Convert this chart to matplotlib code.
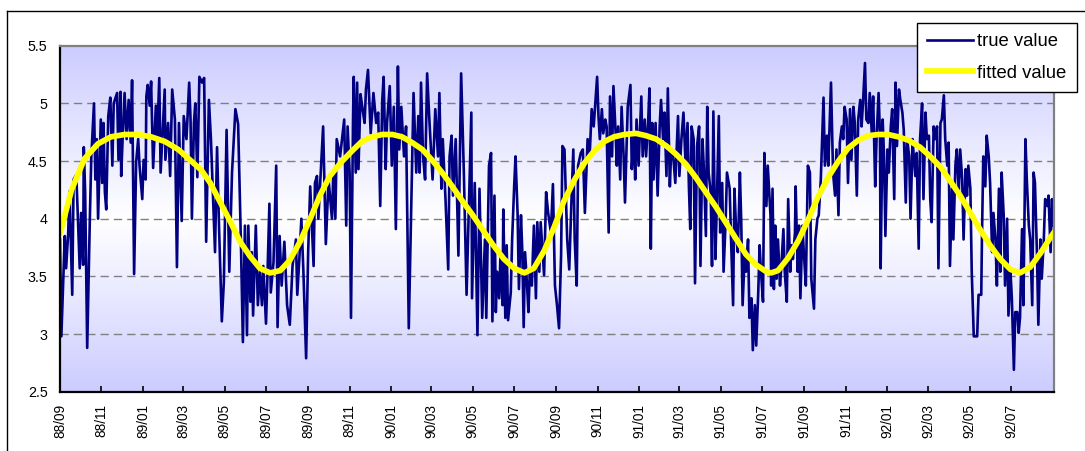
import numpy as np
import pandas as pd
import matplotlib
matplotlib.use('Agg')
import matplotlib.pyplot as plt
from matplotlib.lines import Line2D
from matplotlib.colors import LinearSegmentedColormap

plt.rcParams['font.family'] = ['Liberation Sans', 'DejaVu Sans']

# ---------------- data (days counted from 1988-09-01) ----------------
start_date = '1988-09-01'
end_date = '1992-09-01'

true_days = [
    0, 2, 7, 9, 12, 14, 18, 20, 24, 29, 31, 34, 35, 37, 40, 44, 46, 50, 52, 54, 56, 60, 62, 64, 66, 68,
    71, 74, 77, 79, 84, 86, 89, 90, 93, 95, 98, 101, 104, 106, 109, 112, 115, 117, 121, 123, 126, 127,
    129, 132, 134, 137, 141, 143, 146, 148, 152, 154, 155, 159, 162, 165, 169, 172, 175, 179, 182, 186,
    190, 192, 194, 197, 199, 202, 205, 209,
    212, 213, 215, 219, 222, 228, 231, 234, 238, 241, 245, 249, 253, 258, 262, 266, 269, 272, 275, 277,
    280, 282, 284, 288, 291, 294, 297, 299, 303, 305, 308, 310, 314, 318, 320, 323, 326, 330, 334, 338,
    342, 347, 349, 352, 355, 358, 362, 365, 368, 373, 375, 378, 380, 384, 387, 391, 395, 400, 402, 405,
    407, 412, 418,
    421, 423, 426, 428, 431, 432, 435, 437, 439, 442, 445, 448, 450, 453, 457, 461, 465, 468, 471, 474,
    476, 479, 481, 485, 488, 491, 494, 497, 499, 502, 506, 509, 513, 516, 520, 524, 527, 529, 531, 534,
    537, 540, 543, 548, 552, 556, 558, 561, 563, 567, 571, 573, 576, 578, 582, 586, 590, 594, 598, 605,
    606, 610, 614, 617, 621, 625, 627,
    631, 634, 636, 639, 641, 643, 646, 648, 651, 652, 655, 657, 659, 663, 665, 668, 670, 673, 675, 678,
    680, 682, 684, 687, 689, 691, 694, 697, 700, 702, 705, 707, 712, 715, 718, 722, 725, 728, 731, 734,
    737, 739, 742, 746, 749, 752, 755, 757, 760, 762, 766, 769, 772, 776, 779, 782, 785, 787, 790, 792,
    794, 797, 799, 802, 804, 807, 809, 812, 814, 817, 819, 821, 824, 826, 829, 831, 835,
    839, 841, 844, 846, 848, 851, 855, 857, 860, 862, 865, 867, 869, 871, 873, 876, 879, 882, 884, 887,
    889, 892, 894, 897, 899, 902, 905, 909, 911, 914, 917, 920, 923, 925, 927, 929, 932, 934, 937, 940,
    942, 945, 947, 950, 952, 954, 957, 959, 961, 964, 966, 969, 971, 974, 976, 979, 981, 985, 987, 990,
    992, 995, 997, 1000, 1002, 1004, 1007, 1009, 1012, 1014, 1017, 1019, 1022, 1024, 1027, 1029, 1031,
    1034, 1036, 1039, 1041, 1045,
    1046, 1048, 1050, 1052, 1054, 1056, 1059, 1061, 1064, 1066, 1069, 1071, 1074, 1076, 1078, 1081,
    1082, 1085, 1087, 1089, 1092, 1094, 1097, 1100, 1103, 1105, 1109, 1111, 1114, 1116, 1119, 1123,
    1125, 1128, 1130, 1134, 1137, 1140, 1142, 1145, 1147, 1150, 1152, 1154, 1157, 1159, 1162, 1164,
    1167, 1169, 1172, 1174, 1177, 1179, 1181, 1184, 1186, 1189, 1191, 1194, 1196, 1199, 1201, 1204,
    1206, 1207, 1210, 1212, 1214, 1217, 1219, 1222, 1224, 1227, 1229, 1231, 1234, 1236, 1239, 1241,
    1244, 1246, 1249, 1251, 1254,
    1255, 1258, 1260, 1263, 1265, 1268, 1270, 1273, 1275, 1278, 1280, 1282, 1285, 1287, 1290, 1292,
    1295, 1297, 1300, 1302, 1305, 1307, 1309, 1312, 1314, 1317, 1319, 1322, 1324, 1327, 1329, 1332,
    1334, 1336, 1339, 1341, 1344, 1349, 1351, 1355, 1356, 1358, 1361, 1363, 1366, 1368, 1371, 1373,
    1376, 1378, 1381, 1383, 1385, 1388, 1390, 1393, 1395, 1398, 1400, 1403, 1405, 1408, 1410, 1412,
    1415, 1417, 1420, 1422, 1425, 1427, 1430, 1432, 1434, 1437, 1439, 1442, 1444, 1447, 1449, 1452,
    1454, 1457, 1459, 1461,
]
true_vals = [
    3.82, 2.98, 3.85, 3.57, 3.87, 4.24, 3.34, 4.34, 4.38, 3.57, 4.05, 3.60, 4.62, 4.23, 2.88, 4.03, 4.53,
    5.00, 4.34, 4.69, 4.00, 4.86, 4.31, 4.83, 4.23, 4.08,
    4.89, 5.05, 4.46, 5.00, 5.09, 4.51, 5.10, 4.37, 4.83, 5.09, 4.69, 5.03, 4.66, 5.20, 3.52, 4.49, 4.69,
    4.46, 4.17, 4.51, 4.34, 5.06,
    5.16, 4.98, 5.19, 4.44, 4.98, 4.69, 5.22, 4.40, 4.89, 5.12, 4.51, 4.83, 4.37, 5.12, 4.86, 3.58, 4.83,
    3.98, 4.89, 4.69,
    5.18, 4.86, 4.00, 4.83, 5.00, 4.36, 5.23, 5.18,
    5.22, 4.72, 3.80, 5.03, 4.69, 3.71, 4.62, 3.91, 3.11, 3.45, 4.77, 3.54, 4.40, 4.95, 4.82, 3.82, 2.93,
    3.94, 2.99, 3.94,
    3.28, 3.71, 3.16, 3.94, 3.25, 3.54, 3.25, 3.59, 3.09, 3.48, 4.13, 3.36, 3.62, 4.46, 3.06, 3.85, 3.42,
    3.80, 3.25, 3.08,
    3.59, 3.82, 3.34, 3.65, 4.00, 3.54, 2.79, 3.71, 4.28, 3.59, 4.31, 4.37, 4.00, 4.46, 4.80, 3.78, 4.34,
    4.00, 4.40, 4.00,
    4.69, 4.54, 4.86,
    3.94, 4.80, 4.40, 3.14, 4.86, 5.23, 4.40, 5.18, 4.43, 5.08, 4.95, 4.83, 5.12, 5.29, 4.74, 5.09, 4.83,
    4.92, 4.11, 5.03,
    5.23, 4.43, 4.83, 5.15, 4.46, 4.97, 3.91, 5.32, 4.60, 4.97, 4.54, 4.80, 3.05, 3.94, 5.09, 4.40, 4.89,
    4.40, 5.18, 4.54,
    4.34, 5.26, 4.89, 4.34, 4.95, 4.54, 5.09, 4.26, 4.69, 4.17, 3.56, 4.54, 4.72, 4.20, 4.69, 3.68, 5.26,
    4.40, 3.34, 4.92,
    3.31, 4.31, 2.99, 4.26, 3.14, 3.82, 3.14,
    4.46, 4.57, 3.11, 4.20, 3.19, 3.54, 3.31, 3.71, 3.25, 4.08, 3.14, 3.77, 3.12, 3.36, 3.82, 4.28, 4.54,
    4.05, 3.39, 4.03,
    3.71, 3.06, 3.71, 3.42, 3.19, 3.54, 3.42, 3.94, 3.31, 3.97, 3.54, 3.97, 3.51, 4.23, 4.05, 3.88, 4.30,
    3.42, 3.25, 3.05,
    3.68, 4.63, 4.60, 3.82, 3.56, 4.11, 4.60, 3.82, 3.42, 4.46, 4.57, 4.60, 4.05, 4.69, 4.54, 4.95, 4.80,
    4.97, 5.23, 4.89,
    4.69, 4.95, 4.74, 4.86, 4.80, 3.88, 5.06, 4.54, 5.15, 4.77, 4.46, 4.80, 4.34, 4.97, 4.54, 4.14, 4.97,
    5.16, 4.43, 4.74, 4.34, 4.86, 4.46, 5.06, 4.54, 4.86, 4.54, 4.83, 5.13, 3.74, 4.83, 4.34, 4.83, 4.20,
    4.80, 5.03, 4.69,
    4.92, 4.37, 5.13, 4.28, 4.60, 4.54, 4.31, 4.89, 4.37, 4.69, 4.92, 4.49, 4.83, 4.28, 3.91, 4.80, 4.69,
    3.44, 4.63, 4.80,
    3.59, 4.69, 4.43, 3.85, 4.97, 4.40, 4.23, 3.59, 4.93, 3.65, 4.11, 4.89, 3.88, 4.31, 3.54, 3.97, 4.40,
    4.26, 3.82, 3.25,
    4.26, 3.82, 3.71, 4.40, 3.97, 3.25, 3.68, 3.54, 3.82, 3.14, 3.31, 2.86, 3.25, 2.90, 3.36, 3.77, 3.54,
    3.28, 4.57, 4.11, 4.46, 4.03,
    3.42, 4.26, 3.39, 3.94, 3.48, 3.82, 3.42, 3.59, 3.91, 3.54, 3.28, 4.17, 3.54, 3.77, 3.65, 3.88,
    4.28, 3.54, 3.94, 3.31, 3.94, 3.71, 3.42, 4.46, 4.40, 3.48, 3.22, 3.82, 4.00, 4.03, 4.34, 5.05,
    4.46, 4.72, 4.46, 5.18, 4.40, 4.20, 4.60, 4.03, 4.66, 4.80, 4.69, 4.97, 4.86, 4.31, 4.95, 4.51,
    4.97, 4.83, 4.20, 4.86, 5.03, 4.80, 5.00, 5.35, 4.86, 4.83, 5.09, 4.74, 5.06, 4.28, 4.69, 5.09,
    4.74, 3.57, 4.86, 4.54, 3.85, 4.60, 4.40, 4.80, 4.95, 4.17, 5.18, 4.63, 5.12, 5.03, 4.92, 4.77,
    4.14, 4.69, 4.54, 4.00, 4.69,
    4.60, 4.37, 4.57, 3.74, 4.69, 5.00, 4.17, 4.92, 4.69, 4.72, 4.17, 3.97, 4.80, 4.69, 4.80, 3.57,
    4.83, 4.86, 5.07, 4.69, 4.46, 4.66, 3.59, 4.26, 3.82, 4.46, 4.60, 4.23, 4.60, 4.34, 3.82, 4.43,
    4.20, 4.46, 4.26, 3.54, 2.98, 2.98, 3.34, 3.34, 3.82, 4.54, 4.28, 4.72, 4.54, 4.31, 3.71, 4.05,
    3.80, 3.42, 4.26, 3.54, 4.40, 4.03, 3.42, 4.00, 3.16, 3.54, 3.31, 2.69, 3.19, 3.19, 3.01, 3.14,
    3.91, 3.25, 4.69, 4.34, 3.94, 3.82, 3.25, 4.40, 4.31, 3.68, 3.08, 3.82, 3.48, 3.82, 4.17, 4.11,
    4.20, 3.71, 4.17, 3.94,
]

fit_days = [
    0, 17, 36, 56, 75, 95, 115, 134, 154, 174, 193, 208, 221, 235, 250, 265, 280, 294, 309, 324, 338,
    353, 368, 383, 397, 412, 430, 444, 459, 474, 489, 503, 518, 533, 547, 562, 577, 591, 606, 621, 636,
    653, 668, 683, 697, 712, 727, 741, 756, 771, 786, 801, 815, 830, 847, 862, 877, 892, 906, 921, 936,
    951, 965, 980, 995, 1009, 1024, 1039, 1046, 1056, 1071, 1086, 1101, 1115, 1130, 1145, 1159, 1174,
    1189, 1204, 1218, 1233, 1248, 1265, 1280, 1295, 1309, 1324, 1339, 1354, 1368, 1383, 1398, 1412,
    1427, 1442, 1457, 1463,
]
fit_vals = [
    3.87, 4.25, 4.52, 4.65, 4.71, 4.73, 4.73, 4.71, 4.67, 4.60, 4.50, 4.42, 4.31, 4.15, 3.98, 3.80, 3.67,
    3.57, 3.53, 3.55, 3.64, 3.80, 4.00, 4.21, 4.37, 4.48, 4.59, 4.67, 4.71, 4.73, 4.73, 4.71, 4.66, 4.60,
    4.51, 4.40, 4.28, 4.16, 4.04, 3.91, 3.78, 3.65, 3.57, 3.53, 3.57, 3.72, 3.93, 4.15, 4.33, 4.48, 4.59,
    4.67, 4.71, 4.73, 4.74, 4.72, 4.69, 4.63, 4.56, 4.47, 4.35, 4.22, 4.10, 3.96, 3.82, 3.69, 3.60, 3.54,
    3.53, 3.55, 3.66, 3.81, 4.00, 4.19, 4.36, 4.50, 4.61, 4.68, 4.72, 4.73, 4.73, 4.71, 4.68, 4.62, 4.54,
    4.45, 4.33, 4.20, 4.05, 3.90, 3.77, 3.65, 3.56, 3.53, 3.58, 3.70, 3.84, 3.89,
]

y_ticks = [2.5, 3.0, 3.5, 4.0, 4.5, 5.0, 5.5]
y_labels = ['2.5', '3', '3.5', '4', '4.5', '5', '5.5']
tick_dates = pd.date_range('1988-09-01', '1992-07-01', freq='2MS')
tick_labels = [d.strftime('%y/%m') for d in tick_dates]
series_names = ['true value', 'fitted value']

# ---------------- figure ----------------
W, H = 1085, 451
fig = plt.figure(figsize=(W / 100, H / 100), dpi=100)
fig.patch.set_facecolor('white')

ax = fig.add_axes([60 / W, 1 - 391.7 / H, (1054 - 60) / W, (391.7 - 45.7) / H])

t0 = pd.Timestamp(start_date)
x_end = (pd.Timestamp(end_date) - t0).days + 1
ymin, ymax = y_ticks[0], y_ticks[-1]

# gradient background (lavender edges, white centre)
cmap = LinearSegmentedColormap.from_list('bg', ['#ffffff', '#ccccff'])
yy = np.linspace(ymin, ymax, 400)
mid = (ymin + ymax) / 2
grad = (np.abs(yy - mid) / (ymax - mid))[:, None]
ax.imshow(grad, extent=[0, x_end, ymin, ymax], origin='lower', aspect='auto',
          cmap=cmap, vmin=0, vmax=1, zorder=0, interpolation='bilinear')

for v in y_ticks[1:-1]:
    ax.axhline(v, color='#808080', lw=1.0, ls=(0, (6, 3.6)), zorder=1)

ax.plot(true_days, true_vals, color='#000080', lw=1.9, zorder=3, solid_joinstyle='round')
ax.plot(fit_days, fit_vals, color='#ffff00', lw=4.1, zorder=4, solid_capstyle='round')

ax.set_xlim(0, x_end)
ax.set_ylim(ymin, ymax)
ax.set_yticks(y_ticks)
ax.set_yticklabels(y_labels)
tick_pos = [(d - t0).days for d in tick_dates]
ax.set_xticks(tick_pos)
ax.set_xticklabels(tick_labels, rotation=90)

ax.tick_params(axis='y', length=0, pad=9, labelsize=10.3, colors='black')
ax.tick_params(axis='x', direction='in', length=4, width=1.2, pad=9, labelsize=9.8, colors='black')

for s in ['left', 'bottom']:
    ax.spines[s].set_color('black')
    ax.spines[s].set_linewidth(1.6)
for s in ['top', 'right']:
    ax.spines[s].set_color('#808080')
    ax.spines[s].set_linewidth(1.6)
for s in ax.spines.values():
    s.set_zorder(5)

# outer chart-area frame (extends beyond the image at right / bottom)
fig.add_artist(Line2D([7 / W, 7 / W], [0, 1 - 11 / H], color='black', lw=1.0,
                      transform=fig.transFigure))
fig.add_artist(Line2D([7 / W, 1], [1 - 11 / H, 1 - 11 / H], color='black', lw=1.0,
                      transform=fig.transFigure))

handles = [Line2D([], [], color='#000080', lw=1.9),
           Line2D([], [], color='#ffff00', lw=4.1)]
leg = fig.legend(handles, series_names, loc='upper left',
                 bbox_to_anchor=(917 / W, 1 - 23 / H), bbox_transform=fig.transFigure,
                 fontsize=13.3, frameon=True, fancybox=False, framealpha=1,
                 edgecolor='black', borderpad=0.55, handlelength=2.5,
                 handletextpad=0.22, labelspacing=0.78, borderaxespad=0)
leg.get_frame().set_linewidth(1.0)

fig.savefig('out.png', dpi=100)
